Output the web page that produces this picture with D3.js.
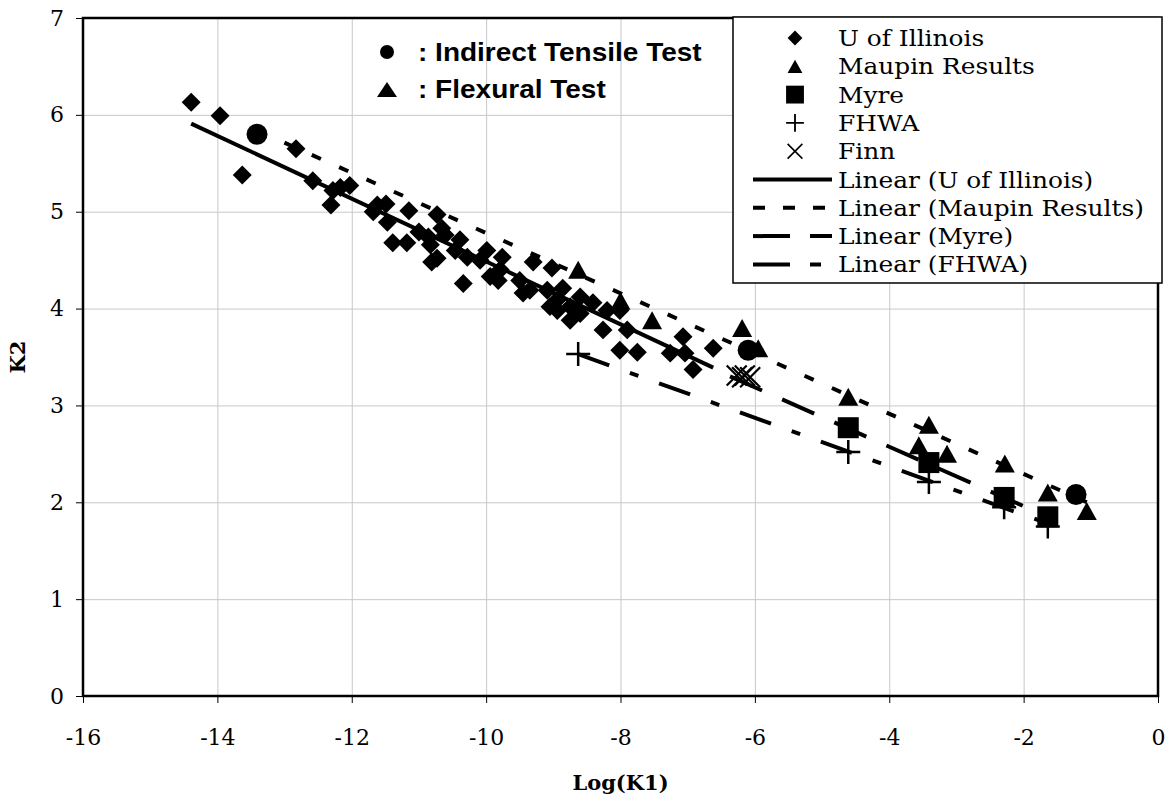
<!DOCTYPE html>
<html>
<head>
<meta charset="utf-8">
<script src="https://cdn.jsdelivr.net/npm/d3@7"></script>
<style>
  body { margin: 0; background: #fff; }
  svg { display: block; }
</style>
</head>
<body>
<div id="chart"></div>
<script>
// K2 vs Log(K1) scatter with linear fits

const WIDTH = 1172;
const HEIGHT = 798;
const PLOT = { LEFT: 83, RIGHT: 1158, TOP: 18, BOTTOM: 696 };

// data: [Log(K1), K2]
const illinois = [
  [-14.39, 6.13], [-13.96, 5.99], [-13.63, 5.38], [-12.83, 5.65], [-12.58, 5.32],
  [-12.31, 5.07], [-12.28, 5.22], [-12.17, 5.25], [-12.03, 5.27], [-11.68, 5.00],
  [-11.62, 5.07], [-11.49, 5.08], [-11.47, 4.89], [-11.39, 4.68], [-11.18, 4.68],
  [-11.15, 5.01], [-11.00, 4.79], [-10.86, 4.74], [-10.83, 4.66], [-10.81, 4.48],
  [-10.73, 4.97], [-10.73, 4.52], [-10.66, 4.83], [-10.61, 4.76], [-10.46, 4.60],
  [-10.39, 4.71], [-10.34, 4.26], [-10.28, 4.53], [-10.09, 4.50], [-9.99, 4.60],
  [-9.94, 4.33], [-9.82, 4.29], [-9.79, 4.40], [-9.76, 4.53], [-9.50, 4.29],
  [-9.45, 4.16], [-9.35, 4.19], [-9.30, 4.48], [-9.09, 4.19], [-9.05, 4.02],
  [-9.02, 4.42], [-8.94, 4.09], [-8.94, 3.98], [-8.86, 4.21], [-8.75, 4.02],
  [-8.75, 3.88], [-8.60, 4.12], [-8.60, 3.95], [-8.41, 4.06], [-8.26, 3.78],
  [-8.20, 3.98], [-8.01, 3.98], [-8.01, 3.57], [-7.90, 3.78], [-7.75, 3.55],
  [-7.26, 3.54], [-7.07, 3.71], [-7.04, 3.54], [-6.92, 3.37], [-6.62, 3.59]
];
const maupin = [
  [-8.63, 4.40], [-8.00, 4.08], [-7.53, 3.88], [-6.19, 3.80], [-5.95, 3.59],
  [-4.61, 3.09], [-3.41, 2.80], [-3.56, 2.59], [-3.14, 2.50], [-2.28, 2.40],
  [-1.64, 2.10], [-1.06, 1.91]
];
const tensile = [[-13.41, 5.80], [-6.10, 3.57], [-1.22, 2.08]];
const myre = [[-4.61, 2.77], [-3.41, 2.41], [-2.29, 2.05], [-1.64, 1.85]];
const fhwa = [[-8.63, 3.53], [-4.61, 2.52], [-3.41, 2.21], [-2.29, 1.95], [-1.64, 1.75]];
const finn = [[-6.27, 3.31], [-6.19, 3.29], [-6.15, 3.31], [-6.07, 3.29]];

// trend line end points
const fitIllinois = [[-14.39, 5.91], [-6.62, 3.39]];
const fitMaupin = [[-13.41, 5.84], [-1.06, 2.00]];
const fitMyre = [[-6.37, 3.30], [-1.64, 1.85]];
const fitFhwa = [[-8.63, 3.53], [-1.64, 1.78]];

const xTicks = [-16, -14, -12, -10, -8, -6, -4, -2, 0];
const yTicks = [0, 1, 2, 3, 4, 5, 6, 7];

const legendItems = [
  { label: 'U of Illinois', kind: 'diamond' },
  { label: 'Maupin Results', kind: 'triangle' },
  { label: 'Myre', kind: 'square' },
  { label: 'FHWA', kind: 'plus' },
  { label: 'Finn', kind: 'cross' },
  { label: 'Linear (U of Illinois)', kind: 'line', dash: null },
  { label: 'Linear (Maupin Results)', kind: 'line', dash: '12,18' },
  { label: 'Linear (Myre)', kind: 'line', dash: '37,20' },
  { label: 'Linear (FHWA)', kind: 'line', dash: '37,20,11,20' }
];

const SERIF = "'DejaVu Serif', 'Liberation Serif', serif";
const SANS = "'Liberation Sans', Arial, sans-serif";

// the original lettering is wider than the fonts we have
function stretch(sel, k) {
  sel.each(function () {
    const w = this.getComputedTextLength();
    d3.select(this).attr('textLength', w * k).attr('lengthAdjust', 'spacingAndGlyphs');
  });
}

const x = d3.scaleLinear().domain([-16, 0]).range([PLOT.LEFT, PLOT.RIGHT]);
const y = d3.scaleLinear().domain([0, 7]).range([PLOT.BOTTOM, PLOT.TOP]);

const svg = d3.select('#chart').append('svg')
  .attr('width', WIDTH)
  .attr('height', HEIGHT);

svg.append('rect').attr('width', WIDTH).attr('height', HEIGHT).attr('fill', '#fff');

// grid
svg.append('g')
  .attr('transform', `translate(0, ${PLOT.BOTTOM})`)
  .call(d3.axisBottom(x).tickValues(xTicks).tickSize(-(PLOT.BOTTOM - PLOT.TOP)).tickFormat(''))
  .call(g => g.select('.domain').remove())
  .call(g => g.selectAll('line').attr('stroke', '#c8c8c8').attr('stroke-width', 1));

svg.append('g')
  .attr('transform', `translate(${PLOT.LEFT}, 0)`)
  .call(d3.axisLeft(y).tickValues(yTicks).tickSize(-(PLOT.RIGHT - PLOT.LEFT)).tickFormat(''))
  .call(g => g.select('.domain').remove())
  .call(g => g.selectAll('line').attr('stroke', '#c8c8c8').attr('stroke-width', 1));

// axes with outside ticks
const xAxis = svg.append('g')
  .attr('transform', `translate(0, ${PLOT.BOTTOM})`)
  .call(d3.axisBottom(x).tickValues(xTicks).tickSize(7).tickPadding(26).tickFormat(d3.format('d')));
const yAxis = svg.append('g')
  .attr('transform', `translate(${PLOT.LEFT}, 0)`)
  .call(d3.axisLeft(y).tickValues(yTicks).tickSize(7).tickPadding(12).tickFormat(d3.format('d')));

[xAxis, yAxis].forEach(a => {
  a.attr('font-family', null);
  a.select('.domain').remove();
  a.selectAll('line').attr('stroke', '#000').attr('stroke-width', 1);
  a.selectAll('text')
    .attr('fill', '#000')
    .style('font-family', SERIF)
    .style('font-size', '22px');
});
xAxis.selectAll('text').text(d => d < 0 ? '-' + Math.abs(d) : d);

// frame
svg.append('rect')
  .attr('x', PLOT.LEFT).attr('y', PLOT.TOP)
  .attr('width', PLOT.RIGHT - PLOT.LEFT)
  .attr('height', PLOT.BOTTOM - PLOT.TOP)
  .attr('fill', 'none')
  .attr('stroke', '#000')
  .attr('stroke-width', 2.5);

// markers
const plot = svg.append('g');

function drawMarker(g, kind, cx, cy, s) {
  s = s || 1;
  if (kind === 'diamond') {
    g.append('path')
      .attr('d', d3.symbol(d3.symbolSquare, 180 * s * s)())
      .attr('transform', `translate(${cx}, ${cy}) rotate(45)`)
      .attr('fill', '#000');
  } else if (kind === 'triangle') {
    const w = 20 * s, h = 18 * s;
    g.append('path')
      .attr('d', `M${cx},${cy - h / 2}L${cx + w / 2},${cy + h / 2}L${cx - w / 2},${cy + h / 2}Z`)
      .attr('fill', '#000');
  } else if (kind === 'square') {
    const w = 21 * s;
    g.append('rect')
      .attr('x', cx - w / 2).attr('y', cy - w / 2)
      .attr('width', w).attr('height', w)
      .attr('fill', '#000');
  } else if (kind === 'plus') {
    const r = 12 * s;
    g.append('path')
      .attr('d', `M${cx - r},${cy}H${cx + r}M${cx},${cy - r}V${cy + r}`)
      .attr('stroke', '#000').attr('stroke-width', 2.5 * s).attr('fill', 'none');
  } else if (kind === 'cross') {
    const r = 10 * s;
    g.append('path')
      .attr('d', `M${cx - r},${cy - r}L${cx + r},${cy + r}M${cx + r},${cy - r}L${cx - r},${cy + r}`)
      .attr('stroke', '#000').attr('stroke-width', 2.2 * s).attr('fill', 'none');
  } else if (kind === 'circle') {
    g.append('circle')
      .attr('cx', cx).attr('cy', cy).attr('r', 10.5 * s)
      .attr('fill', '#000');
  }
}

illinois.forEach(d => drawMarker(plot, 'diamond', x(d[0]), y(d[1])));
maupin.forEach(d => drawMarker(plot, 'triangle', x(d[0]), y(d[1])));
tensile.forEach(d => drawMarker(plot, 'circle', x(d[0]), y(d[1])));
myre.forEach(d => drawMarker(plot, 'square', x(d[0]), y(d[1])));
fhwa.forEach(d => drawMarker(plot, 'plus', x(d[0]), y(d[1])));
finn.forEach(d => drawMarker(plot, 'cross', x(d[0]), y(d[1])));

// trend lines
const line = d3.line().x(d => x(d[0])).y(d => y(d[1]));
const fits = [
  { data: fitIllinois, dash: null },
  { data: fitMaupin, dash: '10,20' },
  { data: fitMyre, dash: '35,22' },
  { data: fitFhwa, dash: '33,22,9,22' }
];
fits.forEach(f => {
  plot.append('path')
    .attr('d', line(f.data))
    .attr('fill', 'none')
    .attr('stroke', '#000')
    .attr('stroke-width', 4)
    .attr('stroke-dasharray', f.dash);
});

// legend
const legend = svg.append('g');
legend.append('rect')
  .attr('x', 733).attr('y', 17)
  .attr('width', 429).attr('height', 266)
  .attr('fill', '#fff')
  .attr('stroke', '#000')
  .attr('stroke-width', 1.5);

legendItems.forEach((item, i) => {
  const cy = 38 + i * 28.3;
  if (item.kind === 'line') {
    legend.append('line')
      .attr('x1', 753).attr('x2', 832)
      .attr('y1', cy).attr('y2', cy)
      .attr('stroke', '#000').attr('stroke-width', 4)
      .attr('stroke-dasharray', item.dash);
  } else {
    const s = item.kind === 'square' ? 0.85 : item.kind === 'diamond' ? 0.78 : 0.74;
    drawMarker(legend, item.kind, 795, cy, s);
  }
  legend.append('text')
    .attr('x', 838).attr('y', cy + 8)
    .style('font-family', SERIF)
    .style('font-size', '23px')
    .text(item.label)
    .call(stretch, 1.08);
});

// test-type note
const note = svg.append('g');
note.append('circle').attr('cx', 387).attr('cy', 52).attr('r', 7).attr('fill', '#000');
note.append('path').attr('d', 'M387,82L397,97L377,97Z').attr('fill', '#000');
note.append('text')
  .attr('x', 418).attr('y', 61)
  .style('font-family', SANS).style('font-weight', 'bold').style('font-size', '25px')
  .text(': Indirect Tensile Test')
  .call(stretch, 1.12);
note.append('text')
  .attr('x', 418).attr('y', 98)
  .style('font-family', SANS).style('font-weight', 'bold').style('font-size', '25px')
  .text(': Flexural Test')
  .call(stretch, 1.12);

// axis titles
svg.append('text')
  .attr('x', (PLOT.LEFT + PLOT.RIGHT) / 2).attr('y', 790)
  .attr('text-anchor', 'middle')
  .style('font-family', SERIF).style('font-weight', 'bold').style('font-size', '21px')
  .text('Log(K1)');
svg.append('text')
  .attr('transform', `translate(25, ${(PLOT.TOP + PLOT.BOTTOM) / 2}) rotate(-90)`)
  .attr('text-anchor', 'middle')
  .style('font-family', SERIF).style('font-weight', 'bold').style('font-size', '21px')
  .text('K2');
</script>
</body>
</html>
